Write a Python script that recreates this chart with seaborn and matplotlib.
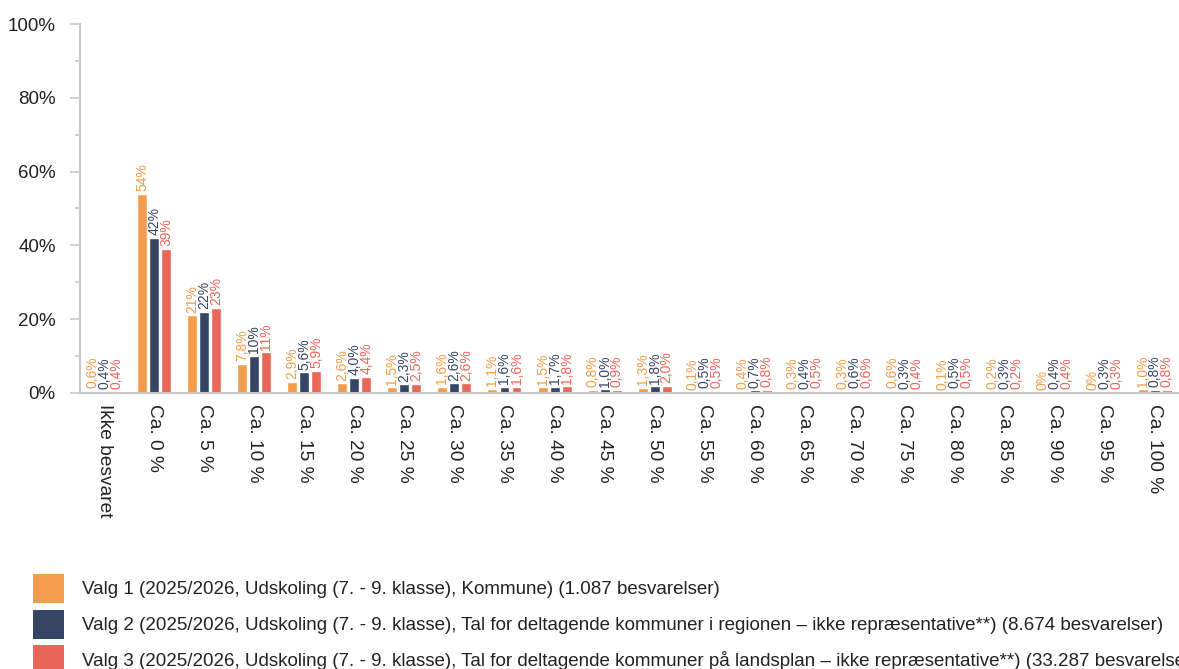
import pandas as pd
import matplotlib
matplotlib.use("Agg")
import matplotlib.pyplot as plt
from matplotlib.patches import Patch
from matplotlib.ticker import MultipleLocator, FuncFormatter
import seaborn as sns

kategorier = ["Ikke besvaret", "Ca. 0 %", "Ca. 5 %", "Ca. 10 %", "Ca. 15 %", "Ca. 20 %",
              "Ca. 25 %", "Ca. 30 %", "Ca. 35 %", "Ca. 40 %", "Ca. 45 %", "Ca. 50 %",
              "Ca. 55 %", "Ca. 60 %", "Ca. 65 %", "Ca. 70 %", "Ca. 75 %", "Ca. 80 %",
              "Ca. 85 %", "Ca. 90 %", "Ca. 95 %", "Ca. 100 %"]

valg1 = [0.6, 54, 21, 7.8, 2.9, 2.6, 1.5, 1.6, 1.1, 1.5, 0.8, 1.3,
         0.1, 0.4, 0.3, 0.3, 0.6, 0.1, 0.2, 0, 0, 1.0]
valg2 = [0.4, 42, 22, 10, 5.6, 4.0, 2.3, 2.6, 1.6, 1.7, 1.0, 1.8,
         0.5, 0.7, 0.4, 0.6, 0.3, 0.5, 0.3, 0.4, 0.3, 0.8]
valg3 = [0.4, 39, 23, 11, 5.9, 4.4, 2.5, 2.6, 1.6, 1.8, 0.9, 2.0,
         0.5, 0.8, 0.5, 0.6, 0.4, 0.5, 0.2, 0.4, 0.3, 0.8]

serier = [
    "Valg 1 (2025/2026, Udskoling (7. - 9. klasse), Kommune) (1.087 besvarelser)",
    "Valg 2 (2025/2026, Udskoling (7. - 9. klasse), Tal for deltagende kommuner i regionen – ikke repræsentative**) (8.674 besvarelser)",
    "Valg 3 (2025/2026, Udskoling (7. - 9. klasse), Tal for deltagende kommuner på landsplan – ikke repræsentative**) (33.287 besvarelser)",
]
farver = ["#F39C4B", "#364563", "#E9675A"]

rows = []
for navn, vals in zip(serier, [valg1, valg2, valg3]):
    for kat, v in zip(kategorier, vals):
        rows.append({"kategori": kat, "serie": navn, "andel": v})
df = pd.DataFrame(rows)

sns.set_style("white")
plt.rcParams["font.family"] = ["Liberation Sans", "DejaVu Sans"]

fig = plt.figure(figsize=(11.79, 6.69), dpi=100)
ax = fig.add_axes([0.068, 0.4126, 0.932, 0.5515])

sns.barplot(data=df, x="kategori", y="andel", hue="serie", hue_order=serier,
            palette=farver, saturation=1, width=0.72, gap=0.17, errorbar=None,
            legend=False, ax=ax)


def fmt_label(v):
    if v == 0:
        return "0%"
    if v >= 10:
        return f"{v:.0f}%"
    return f"{v:.1f}%".replace(".", ",")


for cont, vals, farve in zip(ax.containers, [valg1, valg2, valg3], farver):
    ax.bar_label(cont, labels=[fmt_label(v) for v in vals], rotation=90,
                 padding=2, color=farve, fontsize=10)

ax.set_ylim(0, 100)
ax.set_xlim(-0.48, len(kategorier) - 0.52)
ax.yaxis.set_major_locator(MultipleLocator(20))
ax.yaxis.set_minor_locator(MultipleLocator(10))
ax.yaxis.set_major_formatter(FuncFormatter(lambda v, p: f"{v:.0f}%"))
ax.tick_params(axis="y", which="major", length=7.5, width=1.2, color="#c8c8c8",
               labelsize=13.5, labelcolor="#222222", pad=10, left=True)
ax.tick_params(axis="y", which="minor", length=3.5, width=1.2, color="#c8c8c8", left=True)
ax.tick_params(axis="x", length=0, labelsize=13.8, labelcolor="#222222", pad=8)
ax.set_xticks(range(len(kategorier)))
ax.set_xticklabels(kategorier, rotation=-90, ha="center", va="top")
ax.set_xlabel("")
ax.set_ylabel("")

for side in ["top", "right"]:
    ax.spines[side].set_visible(False)
for side in ["left", "bottom"]:
    ax.spines[side].set_color("#c8c8c8")
    ax.spines[side].set_linewidth(1.5)

handles = [Patch(facecolor=f, edgecolor="none") for f in farver]
fig.legend(handles, serier, loc="upper left", bbox_to_anchor=(0.028, 0.142),
           frameon=False, fontsize=13.5, handlelength=1.65, handleheight=2.0,
           handletextpad=0.95, labelspacing=0.36, borderaxespad=0, borderpad=0,
           labelcolor="#222222")

fig.savefig("out.png", dpi=100)
